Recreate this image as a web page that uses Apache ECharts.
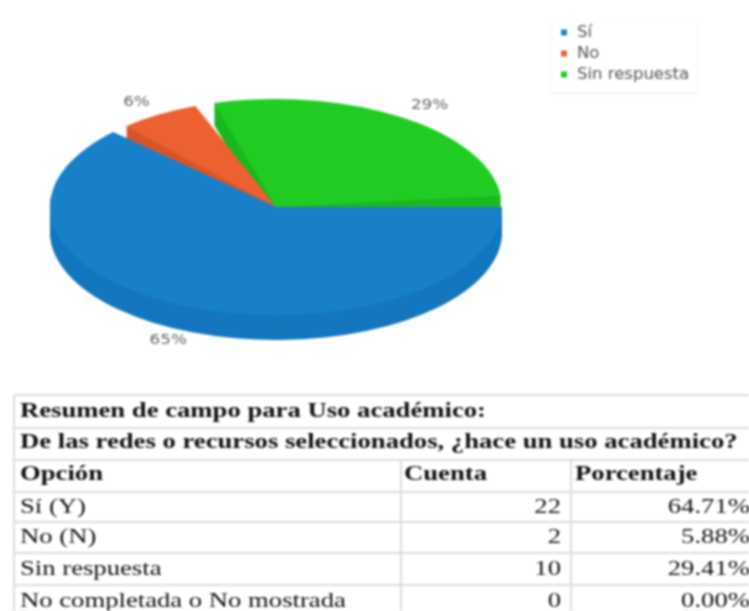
<!DOCTYPE html>
<html><head><meta charset="utf-8">
<style>html,body{margin:0;padding:0;background:#fff}#c{width:749px;height:611px;overflow:hidden;filter:blur(0.8px)}</style>
<script src="https://cdn.jsdelivr.net/npm/echarts@6/dist/echarts.min.js"></script>
</head><body><div id="c"></div>
<script>
// Data
const sliceNames = ['Sí', 'No', 'Sin respuesta'];
const sliceCounts = [22, 2, 10];
const tableTitle = 'Resumen de campo para Uso académico:';
const tableQuestion = 'De las redes o recursos seleccionados, ¿hace un uso académico?';
const tableHeader = ['Opción', 'Cuenta', 'Porcentaje'];
const rowLabels = ['Sí (Y)', 'No (N)', 'Sin respuesta', 'No completada o No mostrada'];
const rowCounts = [22, 2, 10, 0];
const rowPercents = ['64.71%', '5.88%', '29.41%', '0.00%'];

// Style per slice
const topColors = ['#1780c9', '#ec6031', '#20cc22'];
const wallColors = ['#1477be', '#d8552a', '#1cb720'];
const wallDepth = [25, 13, 22];
const startInset = [9, 5, 6];   // degrees, counter-clockwise from east
const endInset = [0, -4.5, 0];
const labelReach = [1.32, 1.15, 1.163];
const labelTurn = [5.3, 6, 1.3];
const stackOrder = [5, 3, 1];
const drawSequence = [2, 1, 0];  // counter-clockwise from east

const CX = 276, CY = 207, RX = 226, RY = 108, K = RY / RX;
const total = sliceCounts.reduce((a, b) => a + b, 0);
const ranges = {};
let acc = 0;
drawSequence.forEach(i => {
  const sweep = sliceCounts[i] / total * 360;
  ranges[i] = [acc, acc + sweep];
  acc += sweep;
});

function renderSlice(idx) {
  return function () {
    const [a0, a1] = ranges[idx];
    const s = -(a0 + startInset[idx]) * Math.PI / 180;
    const e = -(a1 - endInset[idx]) * Math.PI / 180;
    const wall = [];
    for (let d = wallDepth[idx]; d > 0; d--) {
      wall.push({
        type: 'sector', z2: stackOrder[idx],
        shape: { cx: 0, cy: d / K, r: RX, r0: 0, startAngle: s, endAngle: e, clockwise: false },
        style: { fill: wallColors[idx] }, silent: true
      });
    }
    const top = {
      type: 'sector', z2: stackOrder[idx] + 1,
      shape: { cx: 0, cy: 0, r: RX, r0: 0, startAngle: s, endAngle: e, clockwise: false },
      style: { fill: topColors[idx] }, silent: true
    };
    const mid = ((a0 + a1) / 2 + labelTurn[idx]) * Math.PI / 180;
    const reach = labelReach[idx];
    return {
      type: 'group',
      children: [
        { type: 'group', x: CX, y: CY, scaleY: K, children: wall.concat([top]) },
        {
          type: 'text', z2: 20, silent: true, scaleX: 1.2,
          x: CX + Math.cos(mid) * RX * reach, y: CY - Math.sin(mid) * RY * reach,
          style: {
            text: Math.round(sliceCounts[idx] / total * 100) + '%',
            fill: '#666', font: '14px "DejaVu Sans"', textAlign: 'center', textVerticalAlign: 'middle'
          }
        }
      ]
    };
  };
}

// Table as real text through the graphic component
const colLines = [14, 401, 571];
const rowLines = [395, 428, 460, 492, 522, 553, 585, 617];
const rowMid = [412, 443, 475, 507, 537, 569, 601];
const LINE = '#dcdcdc', INK = '#111';
const serif = '"Liberation Serif"';
const g = [];
rowLines.forEach(y => g.push({ type: 'rect', shape: { x: 14, y: y - 1, width: 735, height: 2 }, style: { fill: LINE }, silent: true }));
[colLines[0]].forEach(x => g.push({ type: 'rect', shape: { x: x - 1, y: 395, width: 2, height: 216 }, style: { fill: LINE }, silent: true }));
colLines.slice(1).forEach(x => g.push({ type: 'rect', shape: { x: x - 1, y: 460, width: 2, height: 151 }, style: { fill: LINE }, silent: true }));
function txt(s, x, y, bold, align) {
  g.push({ type: 'text', silent: true, x, y, scaleX: 1.27, style: {
    text: String(s), fill: INK, font: (bold ? 'bold ' : '') + '21px ' + serif,
    textAlign: align || 'left', textVerticalAlign: 'middle' } });
}
txt(tableTitle, 20, rowMid[0], true);
txt(tableQuestion, 20, rowMid[1], true);
txt(tableHeader[0], 20, rowMid[2], true);
txt(tableHeader[1], 404, rowMid[2], true);
txt(tableHeader[2], 575, rowMid[2], true);
rowLabels.forEach((l, i) => {
  txt(l, 20, rowMid[3 + i], false);
  txt(rowCounts[i], 561, rowMid[3 + i], false, 'right');
  txt(rowPercents[i], 750, rowMid[3 + i], false, 'right');
});

const chart = echarts.init(document.getElementById('c'), null, { width: 749, height: 611 });
chart.setOption({
  animation: false,
  backgroundColor: '#fff',
  legend: {
    data: sliceNames, orient: 'vertical', left: 552, top: 22, selectedMode: false,
    icon: 'rect', itemWidth: 6, itemHeight: 6, itemGap: 4,
    padding: [2, 8, 9, 9],
    backgroundColor: '#fff', shadowColor: 'rgba(0,0,0,0.10)', shadowBlur: 3, shadowOffsetY: 1,
    textStyle: { fontFamily: 'DejaVu Sans', fontSize: 16.5, color: '#555', padding: [0, 0, 0, 5] }
  },
  series: sliceNames.map((name, i) => ({
    type: 'custom', name, coordinateSystem: 'none',
    itemStyle: { color: topColors[i] },
    data: [sliceCounts[i]],
    renderItem: renderSlice(i)
  })),
  graphic: { elements: g }
});
</script></body></html>
